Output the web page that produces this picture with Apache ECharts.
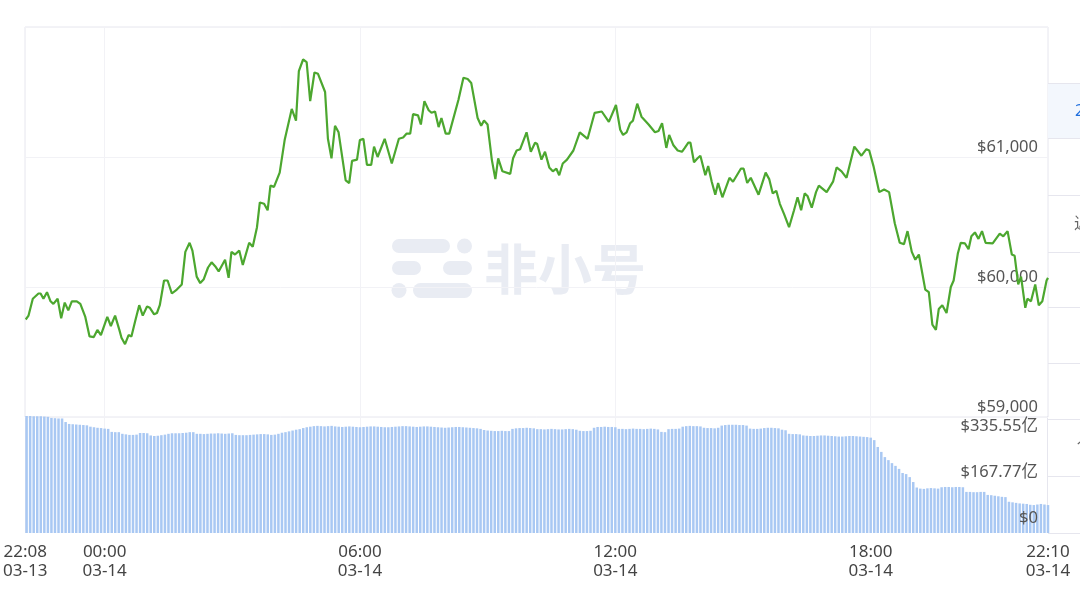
<!DOCTYPE html>
<html><head><meta charset="utf-8">
<script src="https://cdn.jsdelivr.net/npm/echarts@6/dist/echarts.min.js"></script>
<style>html,body{margin:0;padding:0;background:#fff}#c{width:1080px;height:591px}</style>
</head><body><div id="c"></div>
<script>
// minutes relative to 03-14 00:00 (negative = 03-13)
const priceTimes = [-111,-107,-101,-93,-90,-86,-81,-76,-72,-66,-61,-56,-51,-46,-39,-34,-27,-21,-15,-10,-5,
4,9,15,21,24,29,34,38,43,49,54,60,64,70,74,78,84,89,95,102,109,114,120,124,130,135,140,146,151,156,161,165,170,175,179,184,190,195,
204,209,215,219,225,230,234,239,247,254,264,270,274,280,285,290,296,301,311,315,320,325,330,340,345,349,356,360,365,370,376,380,385,395,
405,415,421,426,431,435,442,446,451,457,461,466,471,475,481,486,499,506,512,517,526,531,535,540,546,551,555,561,572,576,581,586,595,
601,607,610,616,621,627,632,637,641,646,652,661,670,681,691,701,711,721,727,731,736,741,745,751,757,767,776,781,786,792,796,
802,808,814,818,823,826,831,836,840,847,851,856,861,865,871,881,886,897,901,906,911,922,932,937,942,947,952,958,965,972,977,982,987,991,997,
1003,1007,1018,1027,1032,1039,1046,1057,1067,1074,1078,1084,1092,1099,1106,1114,1121,1127,1132,1138,1143,1148,1157,1162,1167,1172,1176,1181,1187,1193,1197,
1203,1207,1213,1218,1222,1227,1232,1237,1242,1252,1262,1267,1273,1279,1283,1288,1292,1298,1301,1306,1312,1317,1322,1328,1330];
const priceValues = [59750,59780,59910,59950,59950,59910,59960,59890,59870,59910,59760,59880,59820,59890,59890,59870,59770,59620,59615,59670,59630,
59770,59700,59780,59670,59610,59560,59630,59620,59730,59860,59780,59850,59840,59790,59800,59860,60050,60050,59950,59980,60020,60270,60340,60280,60080,60030,60060,60150,60190,60160,60120,60160,60210,60070,60270,60250,60280,60170,
60340,60310,60460,60650,60640,60590,60780,60770,60880,61130,61370,61280,61660,61750,61730,61430,61650,61640,61500,61140,60990,61240,61190,60820,60800,60970,60980,61130,61140,60940,60940,61080,61000,61140,
60950,61140,61150,61180,61180,61330,61320,61250,61430,61360,61340,61350,61230,61300,61180,61180,61440,61610,61600,61570,61300,61240,61280,61250,60980,60830,60990,60890,60870,60990,61050,61060,61190,
61040,61110,61100,60980,61040,60920,60890,60910,60860,60950,60980,61050,61190,61140,61340,61350,61270,61400,61210,61170,61190,61260,61280,61410,61310,61250,61190,61200,61260,61070,61170,
61090,61050,61040,61070,61110,61110,60960,60990,61010,60860,60930,60810,60710,60800,60690,60840,60810,60910,60910,60800,60840,60710,60880,60830,60720,60740,60640,60560,60460,60590,60690,60590,60720,60700,60610,
60730,60780,60730,60810,60920,60890,60840,61080,61010,61060,61050,60930,60730,60750,60730,60490,60340,60330,60430,60270,60210,60250,59980,59960,59710,59670,59830,59860,59800,60000,60050,
60260,60340,60335,60290,60390,60420,60370,60430,60340,60335,60410,60390,60430,60250,60240,60020,60080,59840,59910,59890,60020,59860,59890,60050,60070];
// volume bars every 5 minutes from 03-13 22:10, in 亿 USD
const volumeStart = -110;
const volumeStep = 5;
const volumeValues = [427,427,426,426,426,425,424,420,419,418,418,405,398,397,396,395,394,393,388,386,384,383,381,380,
369,368,368,362,360,358,358,359,365,365,364,356,354,355,357,359,362,364,364,364,365,366,368,368,
362,362,361,362,363,363,364,363,362,363,364,358,357,357,357,358,359,360,361,361,360,358,359,362,366,
368,371,374,377,379,383,386,388,390,391,390,389,390,391,
389,388,387,388,389,388,387,386,387,388,389,389,388,387,386,386,387,388,389,390,390,389,388,387,388,389,389,388,387,386,385,384,385,386,387,387,386,385,384,383,382,380,
376,374,373,372,372,373,372,372,380,382,383,383,384,383,382,
379,379,378,379,380,379,378,378,379,380,379,377,373,372,372,373,384,387,387,388,387,387,386,
380,380,379,380,381,380,380,379,380,381,380,378,369,368,379,380,380,381,388,390,391,390,390,389,
384,383,383,382,384,392,394,395,395,395,394,394,392,381,380,380,381,383,384,384,383,382,377,375,362,361,361,360,
356,355,354,354,355,356,356,355,354,353,352,352,353,354,354,353,352,351,350,348,
339,314,296,277,266,255,245,234,219,215,204,186,166,162,161,163,164,163,162,
167,168,168,167,168,168,167,150,150,149,149,150,150,139,138,136,134,132,131,114,112,110,108,107,106,103,102,104,106,104,102];
const xTickValues = [-112, 0, 360, 720, 1080, 1330];
const xGridValues = [0, 360, 720, 1080];
const volumeTickValues = [0, 167.77, 335.55];
const priceMin = 59000, priceMax = 62000, priceStep = 1000;
const volumeMax = 427;

const priceData = priceTimes.map((t, i) => [t, priceValues[i]]);
const volumeData = volumeValues.map((v, i) => [volumeStart + i * volumeStep, v]);

function pad(n){ return (n < 10 ? '0' : '') + n; }
function timeLabel(v){
  let m = Math.round(v), date = '03-14';
  if (m < 0) { m += 1440; date = '03-13'; }
  return pad(Math.floor(m / 60)) + ':' + pad(m % 60) + '\n' + date;
}
function money(v){
  return '$' + String(v).replace(/\B(?=(\d{3})+(?!\d))/g, ',');
}
const FONT = '"Noto Sans", "Noto Sans CJK SC", sans-serif';
const wm = '#e9ecf3';
const line = '#e6e6ee';

const chart = echarts.init(document.getElementById('c'));
chart.setOption({
  animation: false,
  grid: [
    {left: 25, right: 32, top: 27, height: 390, show: true, borderColor: line, borderWidth: 1, backgroundColor: 'rgba(0,0,0,0)'},
    {left: 25, right: 32, top: 416, height: 117, show: false}
  ],
  xAxis: [
    {type: 'value', gridIndex: 0, min: -112, max: 1330,
     axisLine: {show: false}, axisTick: {show: false, customValues: xGridValues},
     axisLabel: {show: false}, splitLine: {show: true, lineStyle: {color: '#f2f2f6'}}},
    {type: 'value', gridIndex: 1, min: -112, max: 1330,
     axisLine: {show: false}, axisTick: {show: false, customValues: xGridValues},
     axisLabel: {customValues: xTickValues, formatter: timeLabel, color: '#444', fontSize: 17, lineHeight: 19, margin: 10, fontFamily: FONT},
     splitLine: {show: true, lineStyle: {color: '#f2f2f6'}}}
  ],
  yAxis: [
    {type: 'value', gridIndex: 0, position: 'right', min: priceMin, max: priceMax, interval: priceStep,
     axisLine: {show: false}, axisTick: {show: false},
     splitLine: {show: true, lineStyle: {color: '#f2f2f6'}},
     axisLabel: {inside: true, margin: 10, showMaxLabel: false, formatter: money, color: '#555', fontSize: 16.5, verticalAlign: 'bottom', lineHeight: 20, fontFamily: FONT}},
    {type: 'value', gridIndex: 1, position: 'right', min: 0, max: volumeMax, z: 10,
     axisLine: {show: false}, axisTick: {show: false}, splitLine: {show: false},
     axisLabel: {inside: true, margin: 10, customValues: volumeTickValues,
       formatter: v => v === 0 ? '$0' : '$' + v + '亿', color: '#555', fontSize: 16.5, verticalAlign: 'bottom', lineHeight: 30, fontFamily: FONT}}
  ],
  series: [
    {type: 'bar', xAxisIndex: 1, yAxisIndex: 1, data: volumeData, barWidth: 2.5, itemStyle: {color: '#a9c8f3'}, z: 2},
    {type: 'line', xAxisIndex: 0, yAxisIndex: 0, data: priceData, showSymbol: false, symbol: 'none',
     lineStyle: {color: '#4ca72f', width: 2.2}, itemStyle: {color: '#4ca72f'}, z: 5}
  ],
  graphic: [
    // watermark
    {type: 'group', z: 1, silent: true, children: [
      {type: 'rect', shape: {x: 392, y: 239, width: 58, height: 14, r: 7}, style: {fill: wm}},
      {type: 'circle', shape: {cx: 464.5, cy: 246, r: 7.5}, style: {fill: wm}},
      {type: 'rect', shape: {x: 392, y: 261, width: 29, height: 14, r: 7}, style: {fill: wm}},
      {type: 'rect', shape: {x: 443, y: 261, width: 29, height: 14, r: 7}, style: {fill: wm}},
      {type: 'circle', shape: {cx: 399, cy: 290.5, r: 7.5}, style: {fill: wm}},
      {type: 'rect', shape: {x: 413, y: 283, width: 59, height: 15, r: 7.5}, style: {fill: wm}},
      {type: 'text', style: {text: '非小号', x: 484, y: 269, fill: wm, font: 'bold 54px "Noto Sans CJK SC"', verticalAlign: 'middle'}}
    ]},
    // volume grid side borders
    {type: 'line', silent: true, shape: {x1: 25.5, y1: 416, x2: 25.5, y2: 533}, style: {stroke: line, lineWidth: 1}},
    {type: 'line', silent: true, shape: {x1: 1047.5, y1: 416, x2: 1047.5, y2: 533}, style: {stroke: line, lineWidth: 1}},
    // right side panel (cut off)
    {type: 'rect', silent: true, shape: {x: 1048, y: 83, width: 32, height: 55}, style: {fill: '#f3f7fd'}},
    {type: 'group', silent: true, children: [83, 138, 195, 252, 307, 363, 419, 476, 533].map(y => (
      {type: 'line', shape: {x1: 1048, y1: y + 0.5, x2: 1080, y2: y + 0.5}, style: {stroke: line, lineWidth: 1}}))},
    {type: 'text', silent: true, style: {text: '24H', x: 1075, y: 111, fill: '#1f6fde', font: '16px "Noto Sans"', verticalAlign: 'middle'}},
    {type: 'text', silent: true, style: {text: '近7天', x: 1074, y: 223, fill: '#666', font: '16px "Noto Sans CJK SC"', verticalAlign: 'middle'}},
    {type: 'text', silent: true, style: {text: '1年', x: 1076, y: 448, fill: '#666', font: '16px "Noto Sans"', verticalAlign: 'middle'}}
  ]
});
</script>
</body></html>
